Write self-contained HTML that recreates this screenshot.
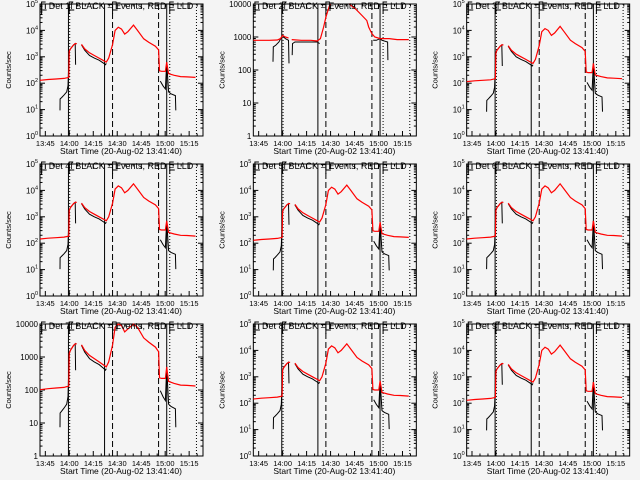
<!DOCTYPE html>
<html><head><meta charset="utf-8"><style>
html,body{margin:0;padding:0;background:#f4f4f4;}
svg{display:block;}
text{font-family:"Liberation Sans",sans-serif;fill:#000;}
</style></head>
<body>
<svg id="chart" width="640" height="480" viewBox="0 0 640 480" xmlns="http://www.w3.org/2000/svg">
<rect width="640" height="480" fill="#f4f4f4"/>
</svg>
<script>
// Minutes after 13:41:40 for each sample, and log10(counts/sec)
const redTimesA = [0,5,10,15,18,18.3,19,21,22,23,null,26,28,31,34,37,40,41.5,43,45.4,47,49,51,53,55,58.5,61,64.9,68,72.2,74.2,74.8,76,78.5,79.3,79.8,80.5,84,88,92,97.3];
const redLogA   = [2.11,2.14,2.16,2.18,2.22,3.2,3.3,3.45,3.5,3.5,null,3.47,3.3,3.15,3.05,2.95,2.85,2.8,2.95,3.47,4.0,4.12,4.05,3.86,3.95,4.2,4.0,3.68,3.55,3.4,3.26,2.47,2.45,2.45,2.8,2.6,2.36,2.3,2.25,2.24,2.22];
const blackTimesA = [12.5,12.6,13.6,15,16.7,17.5,18.3,19,21,22,22.3,null,26,28,31,34,37,40,41,41.5,null,75.3,77,78.5,79.3,80.5,82,84.7,85];
const blackLogA   = [0.97,1.4,1.46,1.55,1.67,1.9,3.2,3.3,3.45,3.5,2.7,null,3.45,3.25,3.05,2.95,2.87,2.75,2.7,2.75,null,2.08,1.9,1.78,2.8,1.67,1.6,1.53,0.97];
const redTimesB = [0,5,10,15,17,18.3,20,22,null,24,30,36,40,42,44,45.4,47,48,null,60,64,68,71,72.2,74.2,76,79.3,80.5,85,90,97.3];
const redLogB   = [2.9,2.9,2.9,2.91,2.95,3.05,3.0,2.97,null,2.92,2.9,2.9,2.88,2.95,3.3,3.6,3.85,4.05,null,4.05,3.85,3.65,3.5,3.3,3.1,3.0,2.95,2.95,2.95,2.92,2.92];
const blackTimesB = [12.3,12.5,14,16,18.3,20,22,22.3,null,24.3,24.5,26,30,36,40,41.5,null,75,77,79.3,80.5,84,84.2];
const blackLogB   = [2.25,2.7,2.75,2.85,3.05,2.95,2.9,2.2,null,2.45,2.8,2.85,2.85,2.85,2.85,2.8,null,2.9,2.9,2.95,2.9,2.85,2.3];
const detNames = ["1f","2f","3f","4f","5f","6f","7f","8f","9f"];
const panelMaxDec = [5,4,5,5,5,5,4,5,5];
const panelOffset = [0,0,-0.05,0.05,0,0.05,-0.1,0.05,0];
const tickLabels = ["13:45","14:00","14:15","14:30","14:45","15:00","15:15"];
const tickMinutes = [3.333,18.333,33.333,48.333,63.333,78.333,93.333];
const solidLines = [17.8,40.4,79.3];
const dashedLines = [45.4,74.2];
const dottedLines = [18.6,81.2,97.9];

const NS="http://www.w3.org/2000/svg";
const svg=document.getElementById('chart');
function mk(tag,attrs,parent){const e=document.createElementNS(NS,tag);for(const k in attrs)e.setAttribute(k,attrs[k]);(parent||svg).appendChild(e);return e;}

for(let p=0;p<9;p++){
  const col=p%3,row=Math.floor(p/3);
  const ox=col*213.33,oy=row*160;
  const L=ox+40,R=ox+203,T=oy+4,B=oy+136;
  const maxDec=panelMaxDec[p];
  const g=mk('g',{});
  
  
  const xs=t=>L+(t/102)*(R-L);
  const ys=v=>B-(v/maxDec)*(B-T);
  const isB=(p===1);
  const rt=isB?redTimesB:redTimesA, rv=isB?redLogB:redLogA;
  const bt=isB?blackTimesB:blackTimesA, bv=isB?blackLogB:blackLogA;
  const off=panelOffset[p];
  function path(ts,vs){
    let d='',pen=false;
    for(let i=0;i<ts.length;i++){
      if(ts[i]===null){pen=false;continue;}
      let v=vs[i]+off; v=Math.max(0,Math.min(maxDec,v));
      const x=xs(ts[i]).toFixed(1),y=ys(v).toFixed(1);
      d+=(pen?'L':'M')+x+' '+y+' ';pen=true;
    }
    return d;
  }
  const fr=mk('rect',{x:L,y:T,width:R-L,height:B-T,fill:'none',stroke:'#000','stroke-width':1},g);
  
  
  for(let d=0;d<=maxDec;d++){
    const y=ys(d);
    mk('line',{x1:L,x2:L+5,y1:y,y2:y,stroke:'#000'},g);
    mk('line',{x1:R,x2:R-5,y1:y,y2:y,stroke:'#000'},g);
    if(d<maxDec){for(let m=2;m<10;m++){const ym=ys(d+Math.log10(m));
      mk('line',{x1:L,x2:L+2.5,y1:ym,y2:ym,stroke:'#000'},g);
      mk('line',{x1:R,x2:R-2.5,y1:ym,y2:ym,stroke:'#000'},g);}}
    const tl=mk('text',{x:L-2,y:y+3,'font-size':8,'text-anchor':'end'},g);
    
    
    if(maxDec===4){tl.textContent=String(Math.pow(10,d));}
    else{tl.textContent='10';const s=mk('tspan',{'font-size':5.5,dy:-4},tl);s.textContent=String(d);}
  }
  for(let i=0;i<tickMinutes.length;i++){
    const x=xs(tickMinutes[i]);
    mk('line',{x1:x,x2:x,y1:B,y2:B-5,stroke:'#000'},g);
    mk('line',{x1:x,x2:x,y1:T,y2:T+5,stroke:'#000'},g);
    for(let m=1;m<3;m++){const xm=xs(tickMinutes[i]+m*5);if(xm<R){
      mk('line',{x1:xm,x2:xm,y1:B,y2:B-2.5,stroke:'#000'},g);
      mk('line',{x1:xm,x2:xm,y1:T,y2:T+2.5,stroke:'#000'},g);}}
    const xl=mk('text',{x:x,y:B+10,'font-size':7.5,'text-anchor':'middle'},g);
    
    
    xl.textContent=tickLabels[i];
  }
  solidLines.forEach(t=>mk('line',{x1:xs(t),x2:xs(t),y1:T,y2:B,stroke:'#000','stroke-width':1},g));
  dashedLines.forEach(t=>mk('line',{x1:xs(t),x2:xs(t),y1:T,y2:B,stroke:'#000','stroke-dasharray':'6,3'},g));
  dottedLines.forEach(t=>mk('line',{x1:xs(t),x2:xs(t),y1:T,y2:B,stroke:'#000','stroke-dasharray':'1,2'},g));
  [[1,'E'],[18.3,'F'],[45.4,'S'],[81.2,'E']].forEach(m=>{
    const x=xs(m[0]);
    mk('path',{d:`M${x} ${T+10} L${x} ${T-2} L${x+4} ${T-2} M${x} ${T+6} L${x+5} ${T+6}`,stroke:'#000',fill:'none'},g);
  });
  const bl=mk('path',{d:path(bt,bv),stroke:'#000',fill:'none','stroke-width':1},g);
  
  
  const rl=mk('path',{d:path(rt,rv),stroke:'#ff0000',fill:'none','stroke-width':1.2},g);
  
  
  const ti=mk('text',{x:ox+121,y:oy+9,'font-size':9,'text-anchor':'middle'},g);
  
  
  ti.textContent='Det '+detNames[p]+' BLACK = Events, RED = LLD';
  const yt=mk('text',{x:0,y:0,'font-size':7.5,'text-anchor':'middle',transform:`translate(${ox+11},${oy+70}) rotate(-90)`},g);
  
  
  yt.textContent='Counts/sec';
  const xt=mk('text',{x:ox+121,y:oy+154,'font-size':8.5,'text-anchor':'middle'},g);
  
  
  xt.textContent='Start Time (20-Aug-02 13:41:40)';
}
</script>
</body></html>
